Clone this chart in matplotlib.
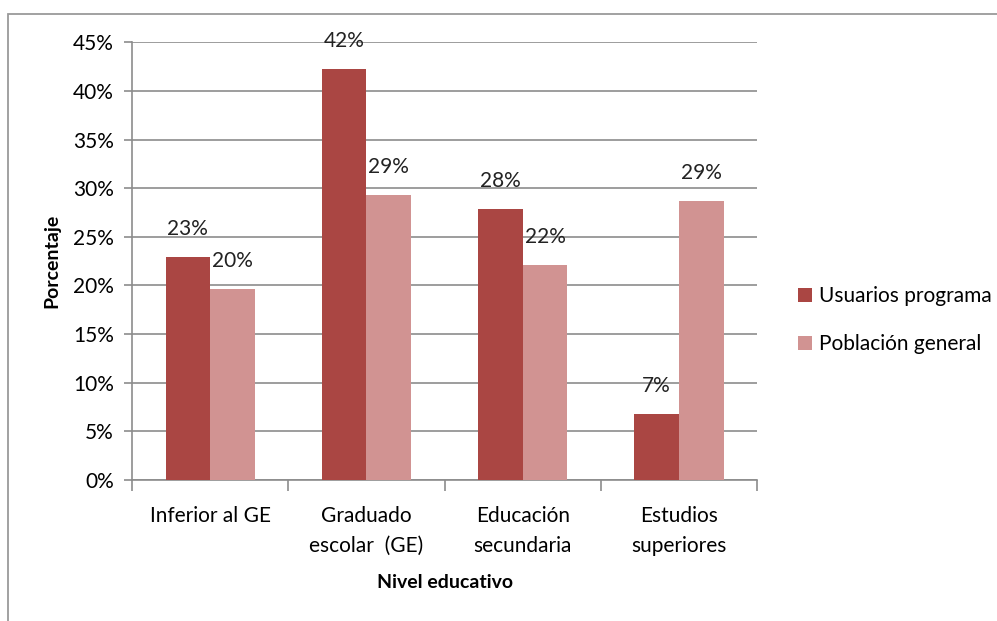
import numpy as np
import matplotlib.pyplot as plt
from matplotlib.patches import Rectangle
from matplotlib.ticker import FuncFormatter, MultipleLocator

categorias = ["Inferior al GE", "Graduado\nescolar  (GE)", "Educación\nsecundaria", "Estudios\nsuperiores"]
usuarios = [22.9, 42.2, 27.9, 6.8]
poblacion = [19.6, 29.3, 22.1, 28.7]
series = ["Usuarios programa", "Población general"]

plt.rcParams['font.family'] = ['Lato', 'DejaVu Sans']
plt.rcParams['font.size'] = 15

fig = plt.figure(figsize=(9.97, 6.21), dpi=100)
ax = fig.add_axes([0.1324, 0.227, 0.627, 0.705])

# marco gris del grafico
fig.patches.append(Rectangle((8 / 997, -0.1), 1.2, 1.1 - 14 / 621,
                             transform=fig.transFigure, fill=False,
                             edgecolor="#9a9a9a", lw=1.3))

x = np.arange(len(categorias))
w = 0.285
b1 = ax.bar(x - w / 2, usuarios, w, color="#AA4643", label=series[0], zorder=3)
b2 = ax.bar(x + w / 2, poblacion, w, color="#D19392", label=series[1], zorder=3)

for bars, vals in ((b1, usuarios), (b2, poblacion)):
    for r, v in zip(bars, vals):
        ax.annotate(f"{v:.0f}%", (r.get_x() + r.get_width() / 2, v),
                    xytext=(0, 13), textcoords="offset points",
                    ha="center", va="bottom", fontsize=15, color="#222222")

ax.set_xlim(-0.5, len(categorias) - 0.5)
ax.set_ylim(0, 45)
ax.yaxis.set_major_locator(MultipleLocator(5))
ax.yaxis.set_major_formatter(FuncFormatter(lambda v, p: f"{v:.0f}%"))
ax.grid(axis="y", color="#8c8c8c", lw=1.2, zorder=0)

ax.set_xticks(x)
ax.set_xticklabels(categorias, linespacing=1.6)
ax.set_xticks(np.arange(-0.5, len(categorias)), minor=True)
ax.tick_params(axis="x", which="major", length=0, pad=19)
ax.tick_params(axis="x", which="minor", length=8, width=1.2, color="#8c8c8c")
ax.tick_params(axis="y", length=6, width=1.2, color="#8c8c8c", pad=7)

for s in ("top", "right"):
    ax.spines[s].set_visible(False)
for s in ("left", "bottom"):
    ax.spines[s].set_color("#8c8c8c")
    ax.spines[s].set_linewidth(1.2)

ax.set_ylabel("Porcentaje", fontweight="bold", fontsize=14, labelpad=9)
ax.set_xlabel("Nivel educativo", fontweight="bold", fontsize=14, labelpad=13)

ax.legend(loc="center left", bbox_to_anchor=(1.035, 0.365), frameon=False,
          handlelength=0.7, handleheight=0.7, handletextpad=0.3,
          labelspacing=1.35, fontsize=15)

fig.savefig("out.png", dpi=100)
